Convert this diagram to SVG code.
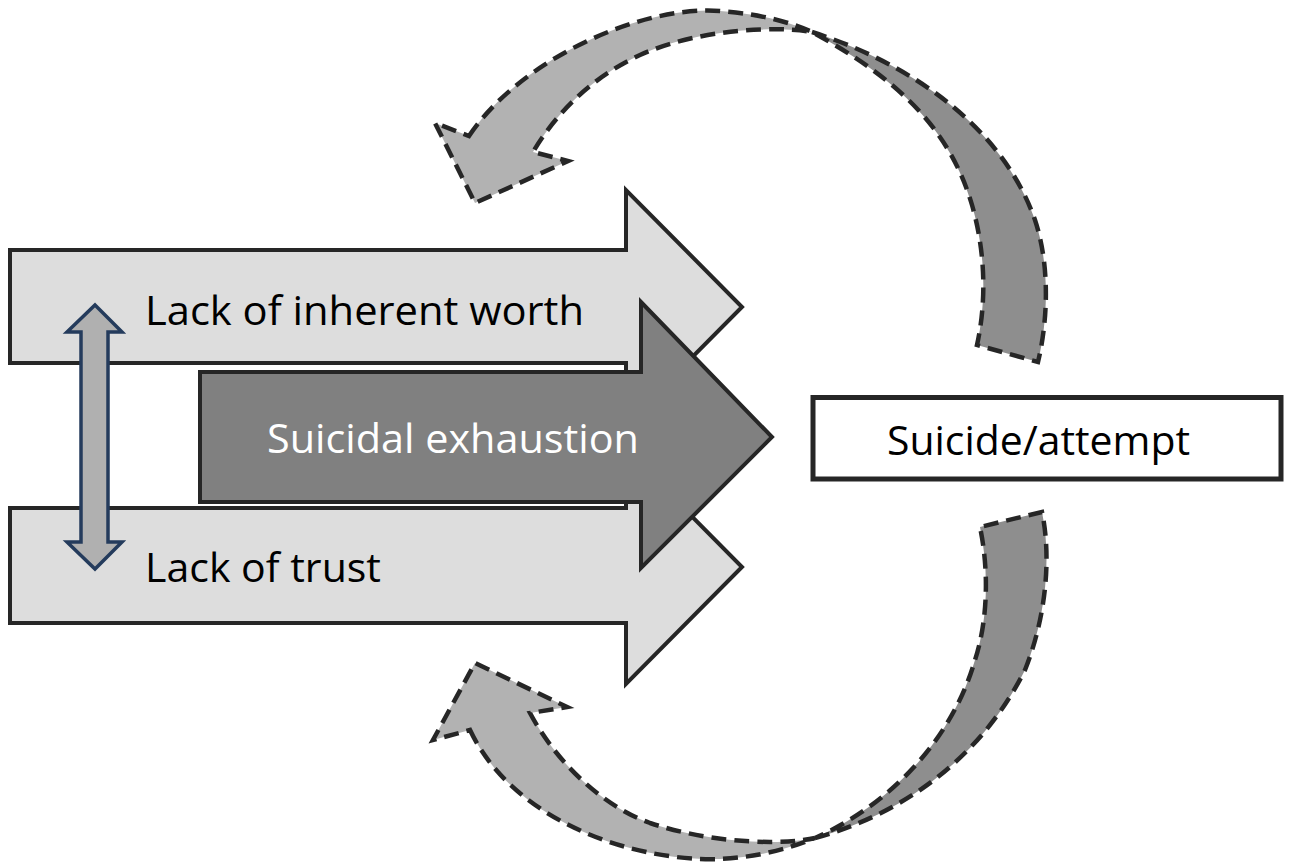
<svg xmlns="http://www.w3.org/2000/svg" width="1293" height="865" viewBox="0 0 1293 865">
<style>
.big{stroke:#262626;stroke-width:4;stroke-linejoin:miter}
.light{fill:#dddddd}
.mid{fill:#808080}
.cl{fill:#b2b2b2;stroke:#262626;stroke-width:4.5;stroke-dasharray:15 8;stroke-linejoin:miter}
.cd{fill:#8e8e8e;stroke:#262626;stroke-width:4.5;stroke-dasharray:15 8;stroke-linejoin:miter}
.t{font-family:"Open Sans","Liberation Sans",sans-serif;font-size:40px;fill:#000}
</style>
<rect width="1293" height="865" fill="#fff"/>
<g id="connectors">
<g id="loop-top">
<path class="cd" d="M812,32 C900,60 1000,120 1035,220 C1050,265 1048,320 1038,362 L977,345 C987,300 985,250 972,205 C950,130 900,80 812,32 Z"/>
<path class="cl" d="M469,136 C520,60 640,5 720,11 C760,14 790,22 812,32 C780,26 700,28 640,55 C590,78 555,115 533,152 L568,161 L475,203 L435,123 Z"/>
</g>
<g id="loop-bottom">
<path class="cd" d="M815,838 C900,815 980,760 1025,670 C1045,620 1052,560 1042,512 L980,527 C989,570 988,620 975,660 C955,730 900,800 815,838 Z"/>
<path class="cl" d="M470,730 C515,825 640,862 720,859 C760,857 790,848 815,838 C790,844 720,846 650,823 C600,805 555,760 530,713 L567,707 L475,663 L433,740 Z"/>
</g>
</g>
<g id="node-worth">
<path class="big light" d="M10,250 L626,250 L626,190 L742,307 L626,424 L626,363 L10,363 Z"/>
<text class="t" x="145" y="325" textLength="439" lengthAdjust="spacingAndGlyphs">Lack of inherent worth</text>
</g>
<g id="node-trust">
<path class="big light" d="M10,508 L626,508 L626,450 L742,567 L626,684 L626,623 L10,623 Z"/>
<text class="t" x="145" y="582" textLength="236" lengthAdjust="spacingAndGlyphs">Lack of trust</text>
</g>
<g id="node-exhaustion">
<path class="big mid" d="M200,372 L641,372 L641,302 L772,437 L641,568 L641,502 L200,502 Z"/>
<text class="t" x="267" y="453" textLength="372" lengthAdjust="spacingAndGlyphs" style="fill:#fff">Suicidal exhaustion</text>
</g>
<g id="double-arrow">
<path d="M95,305 L122,332 L108,332 L108,542 L122,542 L95,569 L67,542 L81,542 L81,332 L67,332 Z" fill="#b0b0b0" stroke="#243b5c" stroke-width="3.5" stroke-linejoin="miter"/>
</g>
<g id="node-suicide">
<rect x="813" y="397.5" width="468" height="81.5" fill="#fff" stroke="#262626" stroke-width="5"/>
<text class="t" x="887" y="455" textLength="303" lengthAdjust="spacingAndGlyphs">Suicide/attempt</text>
</g>
</svg>
